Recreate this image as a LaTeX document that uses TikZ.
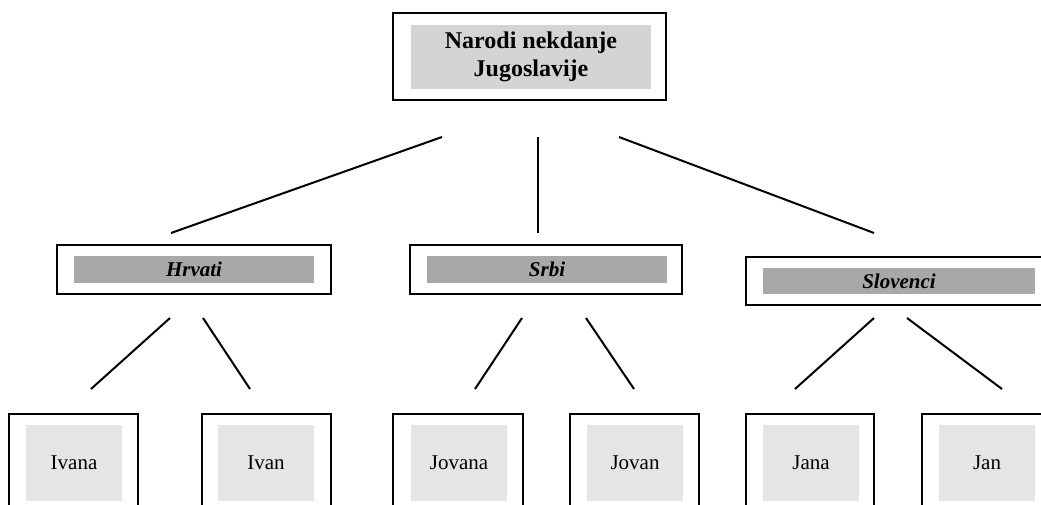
\documentclass[tikz,border=0pt]{standalone}
\usepackage{fontspec}
\setmainfont{Liberation Serif}
\definecolor{topgray}{HTML}{D4D4D4}
\definecolor{midgray}{HTML}{A8A8A8}
\definecolor{lowgray}{HTML}{E5E5E5}
\begin{document}
\begin{tikzpicture}[x=1pt,y=-1pt,
  outer/.style={draw=black,line width=2pt,fill=white,inner sep=0pt},
  innertop/.style={fill=topgray,inner sep=0pt,align=center,font=\fontsize{24}{27.6}\selectfont\bfseries},
  innermid/.style={fill=midgray,inner sep=0pt,font=\fontsize{21}{24}\selectfont\bfseries\itshape},
  innerlow/.style={fill=lowgray,inner sep=0pt,font=\fontsize{21}{24}\selectfont},
  conn/.style={line width=2pt}]
\useasboundingbox (0,0) rectangle (1041,505);
\clip (0,0) rectangle (1041,505);
% top
\node[outer,minimum width=273,minimum height=87] (topo) at (529.5,56.5) {};
\node[innertop,minimum width=240,minimum height=64] (top) at (531,57) {Narodi nekdanje\\Jugoslavije};
% middle
\node[outer,minimum width=274,minimum height=49] (hro) at (194,269.5) {};
\node[innermid,minimum width=240,minimum height=27] (hr) at (194,269.5) {Hrvati};
\node[outer,minimum width=272,minimum height=49] (sro) at (546,269.5) {};
\node[innermid,minimum width=240,minimum height=27] (sr) at (547,269.5) {Srbi};
\node[outer,minimum width=306,minimum height=48] (slo) at (899,281) {};
\node[innermid,minimum width=272,minimum height=26] (sl) at (899,281) {Slovenci};
% bottom
\node[outer,minimum width=129,minimum height=120] (ivao) at (73.5,474) {};
\node[innerlow,minimum width=96,minimum height=76] (iva) at (74,463) {Ivana};
\node[outer,minimum width=129,minimum height=120] (ivo) at (266.5,474) {};
\node[innerlow,minimum width=96,minimum height=76] (iv) at (266,463) {Ivan};
\node[outer,minimum width=130,minimum height=120] (jovao) at (458,474) {};
\node[innerlow,minimum width=96,minimum height=76] (jova) at (459,463) {Jovana};
\node[outer,minimum width=129,minimum height=120] (jovo) at (634.5,474) {};
\node[innerlow,minimum width=96,minimum height=76] (jov) at (635,463) {Jovan};
\node[outer,minimum width=128,minimum height=120] (jao) at (810,474) {};
\node[innerlow,minimum width=96,minimum height=76] (ja) at (811,463) {Jana};
\node[outer,minimum width=129,minimum height=120] (jo) at (986.5,474) {};
\node[innerlow,minimum width=96,minimum height=76] (j) at (987,463) {Jan};
% connector ends
\coordinate (a1) at (442,137); \coordinate (a2) at (171,233);
\coordinate (b1) at (538,137); \coordinate (b2) at (538,233);
\coordinate (c1) at (619,137); \coordinate (c2) at (874,233);
\coordinate (d1) at (170,318); \coordinate (d2) at (91,389);
\coordinate (e1) at (203,318); \coordinate (e2) at (250,389);
\coordinate (f1) at (522,318); \coordinate (f2) at (475,389);
\coordinate (g1) at (586,318); \coordinate (g2) at (634,389);
\coordinate (h1) at (874,318); \coordinate (h2) at (795,389);
\coordinate (k1) at (907,318); \coordinate (k2) at (1002,389);
\draw[conn] (a1) -- (a2);
\draw[conn] (b1) -- (b2);
\draw[conn] (c1) -- (c2);
\draw[conn] (d1) -- (d2);
\draw[conn] (e1) -- (e2);
\draw[conn] (f1) -- (f2);
\draw[conn] (g1) -- (g2);
\draw[conn] (h1) -- (h2);
\draw[conn] (k1) -- (k2);
\end{tikzpicture}
\end{document}
